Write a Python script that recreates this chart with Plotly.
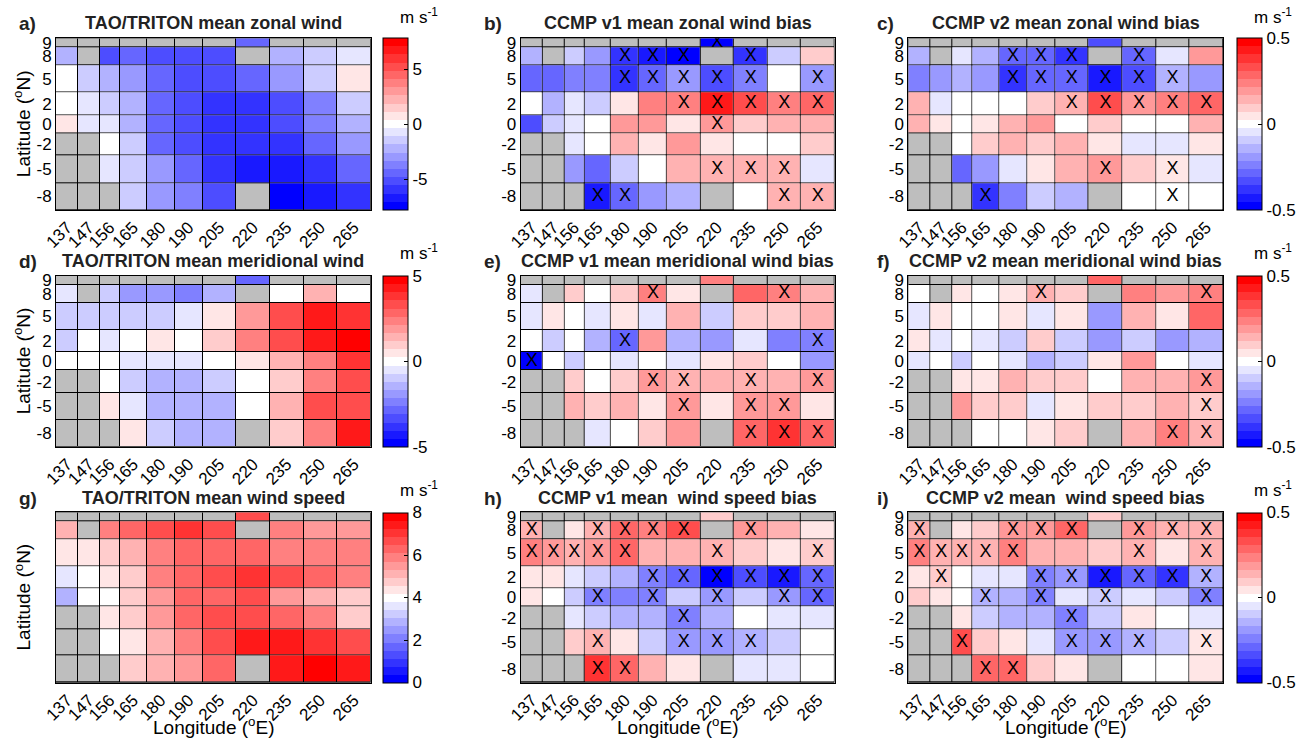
import numpy as np
import plotly.graph_objects as go

# ---------------- data ----------------
lon = [137, 147, 156, 165, 180, 190, 205, 220, 235, 250, 265]
lat = [9, 8, 5, 2, 0, -2, -5, -8]          # rows listed top -> bottom
lon_labels = [str(v) for v in lon]
lat_labels = [str(v) for v in lat]
N = None

# a) TAO/TRITON mean zonal wind (m/s)
u_tao = [
    [N, N, N, N, N, N, N, -4.6, N, N, N],
    [-2.3, N, -5.0, -4.6, -5.3, -5.3, -5.3, N, -2.5, -1.6, -0.8],
    [0.0, -1.5, -2.3, -3.0, -4.6, -5.3, -5.3, -4.6, -3.0, -1.5, 0.8],
    [0.0, -0.8, -1.5, -2.3, -4.6, -5.3, -6.1, -6.1, -5.3, -3.8, -1.5],
    [0.8, -0.8, -0.8, -2.5, -4.6, -5.3, -6.1, -6.1, -5.3, -3.8, -2.5],
    [N, N, 0.0, -1.5, -4.6, -5.3, -6.1, -6.1, -6.1, -4.6, -3.0],
    [N, N, -0.8, -1.5, -3.0, -4.2, -6.1, -6.9, -6.9, -6.1, -4.6],
    [N, N, N, -1.5, -3.0, -3.8, -5.3, N, -7.6, -6.9, -6.1],
]
# b) CCMP v1 zonal wind bias
u_v1 = [
    [N, N, N, N, N, N, N, -0.48, N, N, N],
    [-0.14, N, -0.10, -0.19, -0.38, -0.43, -0.48, N, -0.38, -0.10, 0.10],
    [-0.29, -0.29, -0.24, -0.24, -0.38, -0.29, -0.19, -0.33, -0.24, 0.0, -0.19],
    [0.0, -0.14, -0.05, -0.10, 0.05, 0.24, 0.24, 0.43, 0.33, 0.24, 0.29],
    [-0.33, -0.10, -0.05, 0.0, 0.19, 0.19, 0.05, 0.19, 0.10, 0.14, 0.14],
    [N, N, -0.05, 0.0, 0.14, 0.05, 0.19, 0.05, 0.0, 0.0, 0.10],
    [N, N, -0.19, -0.29, -0.10, 0.0, 0.14, 0.14, 0.14, 0.14, -0.05],
    [N, N, N, -0.43, -0.29, -0.19, -0.14, N, 0.0, 0.14, 0.14],
]
# c) CCMP v2 zonal wind bias
u_v2 = [
    [N, N, N, N, N, N, N, -0.33, N, N, N],
    [-0.14, N, -0.05, -0.14, -0.29, -0.29, -0.38, N, -0.29, -0.05, 0.19],
    [-0.24, -0.19, -0.14, -0.19, -0.38, -0.29, -0.29, -0.43, -0.33, -0.14, -0.19],
    [0.14, -0.05, 0.0, 0.0, 0.0, 0.10, 0.14, 0.33, 0.19, 0.24, 0.29],
    [0.14, 0.05, 0.0, 0.05, 0.14, 0.19, 0.0, 0.10, 0.0, 0.0, 0.14],
    [N, N, 0.0, 0.10, 0.14, 0.10, 0.14, 0.05, -0.05, -0.05, 0.05],
    [N, N, -0.29, -0.19, -0.05, 0.05, 0.14, 0.19, 0.10, 0.05, -0.05],
    [N, N, N, -0.38, -0.24, -0.10, -0.14, N, 0.0, 0.0, 0.0],
]
# d) TAO/TRITON mean meridional wind
v_tao = [
    [N, N, N, N, N, N, N, -2.9, N, N, N],
    [-0.5, N, -1.0, -1.9, -1.9, -2.4, -1.4, N, 0.0, 1.4, 0.0],
    [-1.0, -1.0, -1.0, -1.0, -1.0, -0.5, 0.5, 1.9, 3.3, 4.3, 3.8],
    [-1.0, 0.0, -0.5, 0.0, 0.5, 0.0, 1.0, 2.4, 3.5, 4.3, 4.8],
    [0.0, 0.0, 0.0, -0.5, -0.5, -0.5, 0.0, 0.5, 1.4, 2.4, 3.8],
    [N, N, 0.0, -1.0, -1.4, -1.4, -1.0, 0.0, 1.0, 2.4, 3.1],
    [N, N, 0.5, -0.5, -1.4, -1.4, -1.4, 0.0, 1.4, 3.1, 3.3],
    [N, N, N, 0.5, -1.0, -1.4, -1.4, N, 1.0, 2.4, 4.3],
]
# e) CCMP v1 meridional wind bias
v_v1 = [
    [N, N, N, N, N, N, N, 0.24, N, N, N],
    [-0.05, N, 0.10, 0.0, 0.10, 0.24, 0.05, N, 0.29, 0.24, 0.14],
    [-0.05, 0.05, 0.0, -0.05, 0.05, -0.05, 0.14, -0.10, 0.10, 0.10, 0.14],
    [0.0, -0.10, 0.0, -0.14, -0.29, 0.19, -0.14, -0.19, -0.05, -0.24, -0.24],
    [-0.48, 0.0, -0.10, 0.0, -0.05, 0.0, -0.05, 0.05, 0.10, 0.0, -0.19],
    [N, N, 0.10, 0.0, 0.10, 0.19, 0.14, 0.14, 0.14, 0.14, 0.19],
    [N, N, 0.14, 0.10, 0.14, 0.05, 0.19, 0.05, 0.19, 0.19, 0.05],
    [N, N, N, -0.05, 0.0, 0.10, 0.19, N, 0.29, 0.38, 0.29],
]
# f) CCMP v2 meridional wind bias
v_v2 = [
    [N, N, N, N, N, N, N, 0.29, N, N, N],
    [0.0, N, 0.05, 0.0, 0.05, 0.14, 0.10, N, 0.24, 0.19, 0.24],
    [-0.05, 0.05, 0.0, 0.0, 0.05, -0.05, 0.05, -0.19, 0.14, 0.05, 0.29],
    [0.05, -0.05, 0.0, -0.05, -0.10, 0.10, -0.10, -0.19, -0.10, -0.19, -0.14],
    [-0.05, 0.0, -0.10, 0.0, -0.05, -0.14, -0.10, 0.05, 0.19, 0.0, -0.05],
    [N, N, 0.05, 0.05, 0.14, 0.10, 0.10, 0.0, 0.14, 0.14, 0.19],
    [N, N, 0.19, 0.10, 0.10, -0.05, 0.05, 0.10, 0.10, 0.14, 0.10],
    [N, N, N, 0.0, 0.0, 0.05, 0.10, N, 0.14, 0.24, 0.14],
]
# g) TAO/TRITON mean wind speed
s_tao = [
    [N, N, N, N, N, N, N, 6.7, N, N, N],
    [5.1, N, 6.0, 6.3, 6.7, 7.0, 6.7, N, 6.0, 5.5, 5.4],
    [4.4, 4.4, 4.8, 5.1, 6.0, 6.3, 6.3, 6.3, 6.0, 6.0, 5.9],
    [3.6, 4.0, 4.4, 4.8, 6.0, 6.3, 6.7, 7.0, 6.7, 6.3, 6.0],
    [2.9, 4.0, 4.0, 4.8, 5.5, 6.3, 6.3, 6.5, 5.5, 5.1, 4.8],
    [N, N, 4.4, 4.8, 5.5, 6.3, 6.7, 6.7, 6.3, 5.9, 4.8],
    [N, N, 4.0, 4.4, 5.1, 5.9, 6.7, 7.4, 7.4, 7.0, 6.5],
    [N, N, N, 4.8, 5.1, 5.5, 6.3, N, 7.4, 7.8, 7.4],
]
# h) CCMP v1 wind speed bias
s_v1 = [
    [N, N, N, N, N, N, N, 0.10, N, N, N],
    [0.14, N, 0.05, 0.14, 0.29, 0.24, 0.33, N, 0.19, 0.14, 0.05],
    [0.24, 0.19, 0.14, 0.19, 0.29, 0.14, 0.14, 0.14, 0.10, 0.05, 0.10],
    [0.05, 0.05, -0.05, -0.10, -0.14, -0.24, -0.29, -0.48, -0.33, -0.43, -0.29],
    [0.05, 0.0, -0.10, -0.24, -0.24, -0.24, -0.10, -0.19, -0.10, -0.19, -0.29],
    [N, N, -0.05, -0.10, -0.14, -0.14, -0.24, -0.14, 0.0, -0.05, -0.05],
    [N, N, 0.10, 0.14, 0.05, -0.10, -0.19, -0.19, -0.14, -0.10, 0.0],
    [N, N, N, 0.38, 0.29, 0.14, 0.05, N, -0.05, -0.05, 0.0],
]
# i) CCMP v2 wind speed bias
s_v2 = [
    [N, N, N, N, N, N, N, 0.10, N, N, N],
    [0.14, N, 0.05, 0.10, 0.19, 0.19, 0.29, N, 0.19, 0.14, 0.14],
    [0.24, 0.14, 0.14, 0.14, 0.24, 0.14, 0.14, 0.10, 0.14, 0.05, 0.14],
    [0.05, 0.10, 0.0, -0.05, -0.05, -0.24, -0.19, -0.43, -0.29, -0.38, -0.14],
    [0.10, 0.05, 0.0, -0.14, -0.14, -0.24, -0.05, -0.10, -0.05, -0.10, -0.24],
    [N, N, 0.05, -0.10, -0.14, -0.14, -0.24, -0.10, 0.05, 0.0, -0.05],
    [N, N, 0.33, 0.10, 0.05, -0.05, -0.19, -0.19, -0.14, -0.10, 0.05],
    [N, N, N, 0.29, 0.29, 0.10, 0.05, N, 0.0, 0.0, 0.05],
]

# significance marks (lat, lon)
sig_b = [(9, 220), (8, 180), (8, 190), (8, 205), (8, 235), (5, 180), (5, 190), (5, 205), (5, 220),
         (5, 235), (5, 265), (2, 205), (2, 220), (2, 235), (2, 250), (2, 265), (0, 220), (-5, 220),
         (-5, 235), (-5, 250), (-8, 165), (-8, 180), (-8, 250), (-8, 265)]
sig_c = [(8, 180), (8, 190), (8, 205), (8, 235), (5, 180), (5, 190), (5, 205), (5, 220), (5, 235),
         (5, 250), (2, 205), (2, 220), (2, 235), (2, 250), (2, 265), (-5, 220), (-5, 250), (-8, 165),
         (-8, 250)]
sig_e = [(8, 190), (8, 250), (2, 180), (2, 265), (0, 137), (-2, 190), (-2, 205), (-2, 235), (-2, 265),
         (-5, 205), (-5, 235), (-5, 250), (-8, 235), (-8, 250), (-8, 265)]
sig_f = [(8, 190), (8, 265), (-2, 265), (-5, 265), (-8, 250), (-8, 265)]
sig_h = [(8, 137), (8, 165), (8, 180), (8, 190), (8, 205), (8, 235), (5, 137), (5, 147), (5, 156),
         (5, 165), (5, 180), (5, 220), (5, 265), (2, 190), (2, 205), (2, 220), (2, 235), (2, 250),
         (2, 265), (0, 165), (0, 190), (0, 220), (0, 250), (0, 265), (-2, 205), (-5, 165), (-5, 205),
         (-5, 220), (-5, 235), (-8, 165), (-8, 180)]
sig_i = [(8, 137), (8, 180), (8, 190), (8, 205), (8, 235), (8, 250), (8, 265), (5, 137), (5, 147),
         (5, 156), (5, 165), (5, 180), (5, 235), (5, 265), (2, 147), (2, 190), (2, 205), (2, 220),
         (2, 235), (2, 250), (2, 265), (0, 165), (0, 190), (0, 220), (0, 265), (-2, 205), (-5, 156),
         (-5, 205), (-5, 220), (-5, 235), (-5, 265), (-8, 165), (-8, 180)]

panels = [
    ("a)", "TAO/TRITON mean zonal wind", u_tao, -7.8, 7.8, [], [-5, 0, 5]),
    ("b)", "CCMP v1 mean zonal wind bias", u_v1, -0.5, 0.5, sig_b, None),
    ("c)", "CCMP v2 mean zonal wind bias", u_v2, -0.5, 0.5, sig_c, [-0.5, 0, 0.5]),
    ("d)", "TAO/TRITON mean meridional wind", v_tao, -5, 5, [], [-5, 0, 5]),
    ("e)", "CCMP v1 mean meridional wind bias", v_v1, -0.5, 0.5, sig_e, None),
    ("f)", "CCMP v2 mean meridional wind bias", v_v2, -0.5, 0.5, sig_f, [-0.5, 0, 0.5]),
    ("g)", "TAO/TRITON mean wind speed", s_tao, 0, 8, [], [0, 2, 4, 6, 8]),
    ("h)", "CCMP v1 mean  wind speed bias", s_v1, -0.5, 0.5, sig_h, None),
    ("i)", "CCMP v2 mean  wind speed bias", s_v2, -0.5, 0.5, sig_i, [-0.5, 0, 0.5]),
]

# ---------------- geometry / style ----------------
W, H = 1310, 746
FONT = "Liberation Sans, Arial, Helvetica, sans-serif"
cols_px = [(56, 370.7), (520.7, 834.5), (908.3, 1223)]
rows_px = [(38.3, 210), (276, 446.7), (512.3, 682.7)]
cbar_x = {0: 382.5, 2: 1237}
title_y = [23, 261, 498]
units_y = [16, 252, 489]


def edges(c):
    c = np.asarray(c, float)
    mid = (c[:-1] + c[1:]) / 2
    return np.concatenate([[c[0] - (c[1] - c[0]) / 2], mid, [c[-1] + (c[-1] - c[-2]) / 2]])


lat_asc = lat[::-1]
lon_e = edges(lon)
lat_e = edges(lat_asc)
lon_c = (lon_e[:-1] + lon_e[1:]) / 2
lat_c = (lat_e[:-1] + lat_e[1:]) / 2
lon_cen = dict(zip(lon, lon_c))
lat_cen = dict(zip(lat_asc, lat_c))


def bwr21(n=21):
    cs = []
    half = (n - 1) // 2
    for i in range(n):
        k = i - half
        c = int(round(255 * (1 - abs(k) / half)))
        col = f"rgb({c},{c},255)" if k < 0 else f"rgb(255,{c},{c})"
        cs.append([i / n, col])
        cs.append([(i + 1) / n, col])
    return cs


CS = bwr21()
fig = go.Figure()
annotations = []
layout_axes = {}

for idx, (letter, title, z, zmin, zmax, sig, cbt) in enumerate(panels):
    r, c = divmod(idx, 3)
    n = idx + 1
    xa = "x" if n == 1 else f"x{n}"
    ya = "y" if n == 1 else f"y{n}"
    x0, x1 = cols_px[c]
    t0, t1 = rows_px[r]

    # grey background (missing data)
    fig.add_trace(go.Heatmap(
        z=[[1] * len(lon) for _ in lat], x=lon, y=lat_asc,
        colorscale=[[0, "#bebebe"], [1, "#bebebe"]], zmin=0, zmax=2,
        showscale=False, xgap=1, ygap=1, hoverinfo="skip", xaxis=xa, yaxis=ya))

    hm = dict(z=z[::-1], x=lon, y=lat_asc, zmin=zmin, zmax=zmax, colorscale=CS,
              xgap=1, ygap=1, xaxis=xa, yaxis=ya, showscale=cbt is not None)
    if cbt is not None:
        hm["colorbar"] = dict(
            x=cbar_x[c] / W, xanchor="left", xpad=0, y=1 - (t0 + t1) / 2 / H, yanchor="middle",
            ypad=0, len=(t1 - t0) / H, lenmode="fraction", thickness=25, thicknessmode="pixels",
            outlinewidth=1, outlinecolor="black", tickvals=cbt, ticktext=[f"{v:g}" for v in cbt],
            ticks="inside", ticklen=4, tickcolor="black",
            tickfont=dict(family=FONT, size=17, color="black"))
    fig.add_trace(go.Heatmap(**hm))

    if sig:
        fig.add_trace(go.Scatter(
            x=[lon_cen[s[1]] for s in sig], y=[lat_cen[s[0]] for s in sig],
            mode="text", text=["X"] * len(sig),
            textfont=dict(family=FONT, size=18, color="black"),
            hoverinfo="skip", showlegend=False, xaxis=xa, yaxis=ya))

    layout_axes["xaxis" if n == 1 else f"xaxis{n}"] = dict(
        domain=[x0 / W, x1 / W], anchor=ya, range=[lon_e[0], lon_e[-1]], automargin=False,
        showgrid=False, zeroline=False, showline=True, mirror=True, linecolor="black",
        linewidth=1, ticks="", tickvals=list(lon_c), ticktext=lon_labels, tickangle=-45,
        tickfont=dict(family=FONT, size=17, color="black"), fixedrange=True)
    layout_axes["yaxis" if n == 1 else f"yaxis{n}"] = dict(
        domain=[1 - t1 / H, 1 - t0 / H], anchor=xa, range=[lat_e[0], lat_e[-1]], automargin=False,
        showgrid=False, zeroline=False, showline=True, mirror=True, linecolor="black",
        linewidth=1, ticks="", tickvals=[lat_cen[v] for v in lat], ticktext=lat_labels,
        showticklabels=(idx != 6),
        tickfont=dict(family=FONT, size=17, color="black"), fixedrange=True)

    # titles
    annotations.append(dict(text=f"<b>{letter}</b>", x=[17, 482, 875][c] / W, y=1 - title_y[r] / H,
                             xref="paper", yref="paper", xanchor="left", yanchor="middle",
                             showarrow=False, font=dict(family=FONT, size=19, color="#222")))
    annotations.append(dict(text=f"<b>{title}</b>", x=(x0 + x1) / 2 / W, y=1 - title_y[r] / H,
                            xref="paper", yref="paper", xanchor="center", yanchor="middle",
                            showarrow=False, font=dict(family=FONT, size=18, color="#222")))
    if cbt is not None:
        annotations.append(dict(text="m s<sup>-1</sup>", x=(cbar_x[c] + 36) / W, y=1 - units_y[r] / H,
                                xref="paper", yref="paper", xanchor="center", yanchor="middle",
                                showarrow=False, font=dict(family=FONT, size=17, color="black")))
    if c == 0:
        annotations.append(dict(text="Latitude (<sup>o</sup>N)", x=22 / W, y=1 - (t0 + t1) / 2 / H,
                                xref="paper", yref="paper", xanchor="center", yanchor="middle",
                                textangle=-90, showarrow=False,
                                font=dict(family=FONT, size=19, color="black")))
    if r == 2:
        annotations.append(dict(text="Longitude (<sup>o</sup>E)", x=(x0 + x1) / 2 / W, y=1 - 726 / H,
                                xref="paper", yref="paper", xanchor="center", yanchor="middle",
                                showarrow=False, font=dict(family=FONT, size=19, color="black")))

fig.update_layout(
    template="none",
    width=W, height=H, margin=dict(l=0, r=0, t=0, b=0, pad=0, autoexpand=False),
    paper_bgcolor="white", plot_bgcolor="black", showlegend=False,
    font=dict(family=FONT, color="black"),
    annotations=annotations, **layout_axes)

fig.write_html("out.html", config={"displayModeBar": False, "staticPlot": True},
               post_script="document.body.style.margin='0';document.body.style.padding='0';")
